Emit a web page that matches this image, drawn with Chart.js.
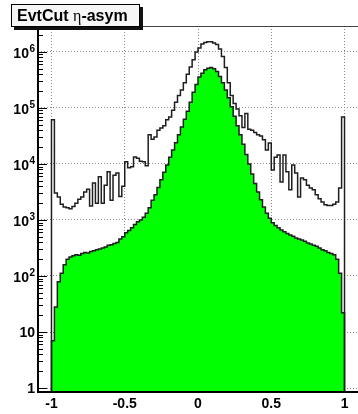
<!DOCTYPE html>
<html>
<head>
<meta charset="utf-8">
<script src="https://cdn.jsdelivr.net/npm/chart.js@4/dist/chart.umd.min.js"></script>
<style>
  html, body { margin: 0; padding: 0; background: #fff; }
  #wrap { position: relative; width: 358px; height: 414px; }
  #title {
    position: absolute; left: 11px; top: 4px; width: 122px; height: 21px;
    padding-left: 5px; border: 1px solid #000; background: #f6f6f6;
    box-shadow: 3px 3px 0 #111;
    font: bold 16px "Liberation Sans", Arial, sans-serif; line-height: 21px; color: #000;
    white-space: nowrap;
  }
  #title .greek { font: 16px "Liberation Serif", serif; }
</style>
</head>
<body>
<div id="wrap">
  <canvas id="asym"></canvas>
  <div id="title">EvtCut <span class="greek">η</span>-asym</div>
</div>
<script>
// histogram binning: 100 bins of 0.02 from -1 to 1
const binLow = -1.0;
const binWidth = 0.02;

// all events (open histogram)
const allEvents = [
  61700, 3020, 2570, 1905, 1698, 1660, 1585, 1738, 1995, 2344,
  2570, 3162, 3548, 1778, 4571, 1995, 5888, 1995, 4169, 7244,
  2239, 6310, 6918, 2630, 3981, 10960, 8511, 8913, 13340, 12590,
  11220, 10960, 9333, 33110, 27540, 30200, 39810, 43650, 47860, 61660,
  69180, 91200, 125900, 166000, 208900, 281800, 398100, 537000, 724400, 1000000,
  1175000, 1380000, 1479000, 1514000, 1514000, 1445000, 1349000, 1122000, 831800, 524800,
  281800, 166000, 120200, 95500, 72440, 44670, 79430, 41690, 39810, 36310,
  33110, 31620, 26920, 17780, 23710, 7762, 13180, 14450, 4786, 14450,
  7244, 3467, 9550, 6918, 2570, 5623, 5248, 4169, 3715, 3467,
  2818, 2399, 2089, 1862, 1820, 1820, 1905, 2089, 3715, 69180
];

// events passing the cut (filled histogram)
const passedCut = [
  7, 28, 79, 112, 158, 200, 219, 229, 240, 234,
  251, 263, 257, 275, 282, 295, 302, 316, 331, 355,
  363, 380, 398, 457, 501, 589, 646, 724, 832, 933,
  1000, 1122, 1318, 1660, 2239, 2818, 3802, 5248, 7079, 9550,
  13180, 17780, 23990, 33110, 45710, 63100, 87100, 125900, 190500, 263000,
  354800, 416900, 478600, 512900, 524800, 501200, 446700, 363100, 281800, 208900,
  151400, 104700, 70800, 47860, 33110, 22390, 14790, 10000, 6607, 4467,
  3162, 2291, 1698, 1318, 1072, 891, 794, 724, 661, 617,
  575, 537, 513, 479, 457, 437, 417, 389, 372, 355,
  339, 316, 295, 282, 263, 251, 240, 200, 112, 22
];

const xTicks = [-1, -0.5, 0, 0.5, 1];
const yTickValues = [1, 10, 100, 1e3, 1e4, 1e5, 1e6];
const yTickBase = ['1', '10', '10', '10', '10', '10', '10'];
const yTickExp = ['', '', '2', '3', '4', '5', '6'];

const xMin = -1.092, xMax = 1.092;
const yMin = 0.85, yMax = 2.9e6;

// turn bin contents into outline vertices (two per bin, dropping to the floor at both ends)
function histPoints(counts) {
  const pts = [{ x: binLow, y: yMin }];
  counts.forEach((c, i) => {
    const lo = binLow + i * binWidth;
    pts.push({ x: lo, y: c }, { x: lo + binWidth, y: c });
  });
  pts.push({ x: binLow + counts.length * binWidth, y: yMin });
  return pts;
}

const isDecade = v => Math.abs(Math.log10(v) - Math.round(Math.log10(v))) < 1e-6;

const FONT = '"Liberation Sans", Arial, sans-serif';

// frame, inward tick marks and power-of-ten labels on the log axis
const rootAxes = {
  id: 'rootAxes',
  afterDraw(chart) {
    const { ctx, chartArea: a } = chart;
    const y = chart.scales.y;
    ctx.save();

    ctx.strokeStyle = '#444';
    ctx.lineWidth = 1;
    ctx.beginPath();
    ctx.moveTo(a.left, a.top + 0.5);
    ctx.lineTo(a.right, a.top + 0.5);
    ctx.stroke();

    ctx.strokeStyle = '#000';
    ctx.lineWidth = 2;
    ctx.beginPath();
    ctx.moveTo(a.left, a.top);
    ctx.lineTo(a.left, a.bottom);
    ctx.lineTo(a.right, a.bottom);
    ctx.stroke();

    ctx.lineWidth = 1;
    y.ticks.forEach(t => {
      const e = Math.floor(Math.log10(t.value) + 1e-9);
      const s = t.value / Math.pow(10, e);
      if (Math.abs(s - Math.round(s)) > 1e-6) return;
      const py = Math.round(y.getPixelForValue(t.value)) + 0.5;
      const len = Math.round(s) === 1 ? 9 : 5;
      ctx.beginPath();
      ctx.moveTo(a.left, py);
      ctx.lineTo(a.left + len, py);
      ctx.stroke();
    });

    ctx.fillStyle = '#000';
    ctx.textAlign = 'right';
    ctx.textBaseline = 'middle';
    const right = a.left - 3;
    yTickValues.forEach((v, i) => {
      const py = y.getPixelForValue(v);
      if (yTickExp[i]) {
        ctx.font = 'bold 10px ' + FONT;
        ctx.fillText(yTickExp[i], right, py - 3);
        const w = ctx.measureText(yTickExp[i]).width;
        ctx.font = 'bold 14px ' + FONT;
        ctx.fillText(yTickBase[i], right - w - 0.5, py + 2);
      } else {
        ctx.font = 'bold 14px ' + FONT;
        ctx.fillText(yTickBase[i], right, py + 1);
      }
    });
    ctx.restore();
  }
};

new Chart(document.getElementById('asym'), {
  type: 'line',
  data: {
    datasets: [
      {
        label: 'all',
        data: histPoints(allEvents),
        borderColor: '#1e1e1e',
        borderWidth: 1.5,
        fill: false,
        stepped: 'before',
        pointRadius: 0
      },
      {
        label: 'passed',
        data: histPoints(passedCut),
        borderColor: '#1e1e1e',
        borderWidth: 1.5,
        backgroundColor: '#00ff00',
        fill: 'start',
        stepped: 'before',
        pointRadius: 0
      }
    ]
  },
  plugins: [rootAxes],
  options: {
    responsive: true,
    maintainAspectRatio: false,
    animation: false,
    layout: { padding: { top: 26, right: 0, bottom: 0, left: 0 } },
    plugins: { legend: { display: false }, tooltip: { enabled: false } },
    scales: {
      x: {
        type: 'linear',
        min: xMin,
        max: xMax,
        afterFit: s => { s.height = 22; },
        afterBuildTicks: s => { s.ticks = xTicks.map(v => ({ value: v })); },
        ticks: {
          includeBounds: false,
          autoSkip: false,
          maxRotation: 0,
          padding: 4,
          color: '#000',
          font: { family: FONT, size: 14, weight: 'bold' },
          callback: v => String(v)
        },
        grid: { color: '#8a8a8a', lineWidth: 1, drawTicks: false },
        border: { display: false, dash: [1, 2] }
      },
      y: {
        type: 'logarithmic',
        min: yMin,
        max: yMax,
        afterFit: s => { s.width = 38; },
        ticks: { display: false, autoSkip: false },
        grid: {
          color: c => (c.tick && isDecade(c.tick.value)) ? '#8a8a8a' : 'rgba(0,0,0,0)',
          lineWidth: 1,
          drawTicks: false
        },
        border: { display: false, dash: [1, 2] }
      }
    }
  }
});
</script>
</body>
</html>
